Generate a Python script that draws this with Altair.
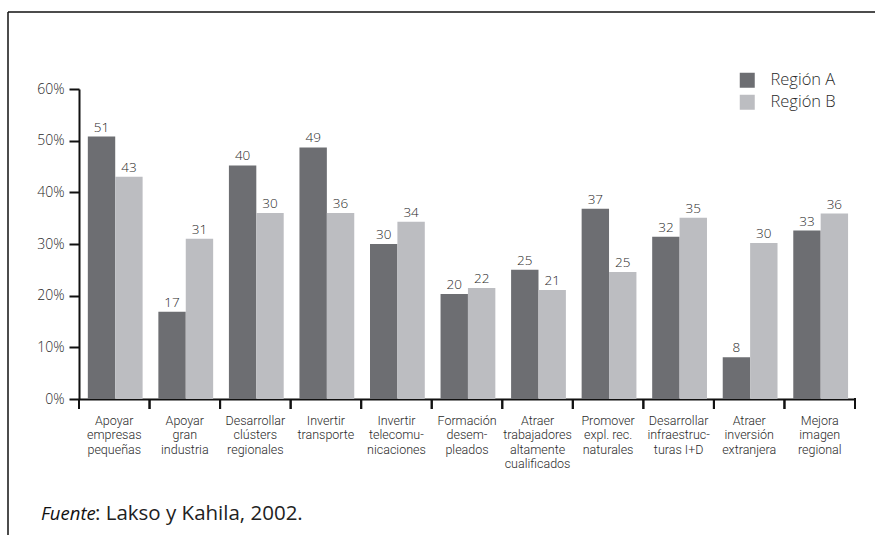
import altair as alt
import pandas as pd

categories = [
    "Apoyar\nempresas\npequeñas",
    "Apoyar\ngran\nindustria",
    "Desarrollar\nclústers\nregionales",
    "Invertir\ntransporte",
    "Invertir\ntelecomu-\nnicaciones",
    "Formación\ndesem-\npleados",
    "Atraer\ntrabajadores\naltamente\ncualificados",
    "Promover\nexpl. rec.\nnaturales",
    "Desarrollar\ninfraestruc-\nturas I+D",
    "Atraer\ninversión\nextranjera",
    "Mejora\nimagen\nregional",
]
series = ["Región A", "Región B"]
height_a = [50.8, 16.9, 45.2, 48.7, 30.0, 20.3, 25.0, 36.8, 31.4, 8.1, 32.6]
height_b = [43.0, 31.0, 36.0, 36.0, 34.3, 21.5, 21.1, 24.6, 35.1, 30.2, 35.9]
label_a = [51, 17, 40, 49, 30, 20, 25, 37, 32, 8, 33]
label_b = [43, 31, 30, 36, 34, 22, 21, 25, 35, 30, 36]
y_ticks = [0, 10, 20, 30, 40, 50, 60]
colors = ["#6d6e72", "#bcbdc1"]

rows = []
for i, c in enumerate(categories):
    rows.append({"cat": c, "region": series[0], "h": height_a[i], "lab": str(label_a[i])})
    rows.append({"cat": c, "region": series[1], "h": height_b[i], "lab": str(label_b[i])})
df = pd.DataFrame(rows)

FONT = "Open Sans"
CAT_FONT = "Roboto"
TXT = "#2a2a2a"
W, H = 776, 310

x_enc = alt.X(
    "cat:N", sort=categories, title=None,
    scale=alt.Scale(paddingInner=0, paddingOuter=0),
    axis=alt.Axis(
        labelExpr="split(datum.label, '\\n')", labelAngle=0, labelAlign="center",
        labelBaseline="top", labelFontSize=12.5, labelLineHeight=14.6,
        labelPadding=15, labelColor=TXT, labelFont=CAT_FONT, labelFontWeight=300,
        ticks=False, domainColor="#111111", domainWidth=2, labelLimit=200,
    ),
)
xoff_enc = alt.XOffset("region:N", sort=series,
                       scale=alt.Scale(paddingOuter=0.2875, paddingInner=0, align=0.56))
y_enc = alt.Y(
    "h:Q", title=None,
    scale=alt.Scale(domain=[0, 60], nice=False),
    axis=alt.Axis(
        values=y_ticks, labelExpr="datum.value + '%'", grid=False,
        tickSize=10, tickWidth=2, tickColor="#111111", domainColor="#111111",
        domainWidth=2, labelFontSize=14, labelPadding=5, labelColor=TXT,
        labelFont=FONT, labelFontWeight=300,
    ),
)

bars = alt.Chart(df).mark_bar().encode(
    x=x_enc,
    xOffset=xoff_enc,
    y=y_enc,
    color=alt.Color(
        "region:N", sort=series, scale=alt.Scale(domain=series, range=colors),
        legend=alt.Legend(
            title=None, orient="none", legendX=660, legendY=-17, padding=0,
            symbolType="square", symbolSize=225, symbolStrokeWidth=0,
            labelFontSize=16.5, labelFont=FONT, labelFontWeight=300, labelColor=TXT,
            labelOffset=15, rowPadding=5,
        ),
    ),
)

values = alt.Chart(df).mark_text(
    dy=-5, baseline="alphabetic", fontSize=13.5, font=FONT, fontWeight=300, color=TXT
).encode(
    x=alt.X("cat:N", sort=categories),
    xOffset=alt.XOffset("region:N", sort=series),
    y=alt.Y("h:Q"),
    text="lab:N",
)

ticks = alt.Chart(df).mark_rule(color="#111111", strokeWidth=2).encode(
    x=alt.X("cat:N", sort=categories, bandPosition=0),
    y=alt.value(H),
    y2=alt.value(H + 10),
)
last_tick = alt.Chart(alt.Data(values=[{}])).mark_rule(color="#111111", strokeWidth=2).encode(
    x=alt.value(W), y=alt.value(H - 1), y2=alt.value(H + 10)
)

frame_top = alt.Chart(alt.Data(values=[{}])).mark_rule(color="#111111", strokeWidth=1.5).encode(
    x=alt.value(-71), x2=alt.value(800), y=alt.value(-77)
)
frame_left = alt.Chart(alt.Data(values=[{}])).mark_rule(color="#111111", strokeWidth=1.5).encode(
    x=alt.value(-71), y=alt.value(-77), y2=alt.value(450)
)

src_it = alt.Chart(alt.Data(values=[{}])).mark_text(
    align="left", baseline="alphabetic", fontSize=18.5, font=FONT, fontStyle="italic", color="#111111"
).encode(x=alt.value(-38), y=alt.value(431), text=alt.value("Fuente"))
src_rest = alt.Chart(alt.Data(values=[{}])).mark_text(
    align="left", baseline="alphabetic", fontSize=20.5, font=FONT, color="#222222"
).encode(x=alt.value(16), y=alt.value(431), text=alt.value(": Lakso y Kahila, 2002."))

chart = alt.layer(
    bars, values, ticks, last_tick, frame_top, frame_left, src_it, src_rest
).properties(
    width=W, height=H,
    autosize=alt.AutoSizeParams(type="none"),
    padding={"left": 79, "top": 89, "right": 20, "bottom": 136},
    background="white",
).configure_view(stroke=None)

chart.save("out.html", embed_options={"renderer": "svg", "actions": False})
